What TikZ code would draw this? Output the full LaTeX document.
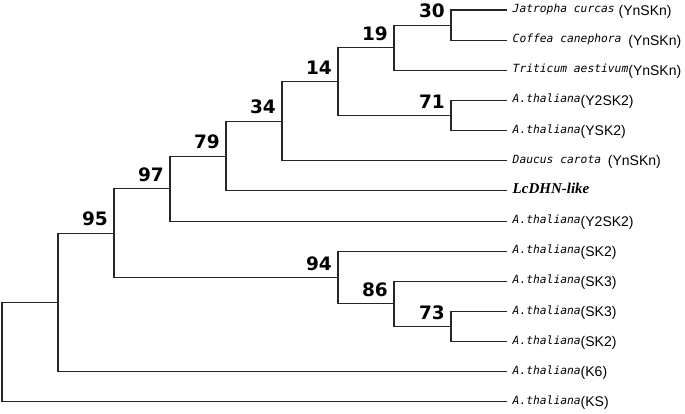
\documentclass[tikz,border=0pt]{standalone}
\usepackage{fontspec}
\newfontfamily\bsfont{DejaVu Sans}
\newfontfamily\tagfont{Liberation Sans}
\newfontfamily\lcfont{Liberation Serif}
\newfontfamily\monofont{DejaVu Sans Mono}
\newcommand{\spec}[1]{\raisebox{2.5pt}{\monofont\itshape\fontsize{11.3}{13}\selectfont #1}}
\newcommand{\gtag}[1]{{\tagfont\fontsize{14}{16}\selectfont #1}}
\tikzset{
  br/.style={draw=black!85, line width=1.05pt},
  bs/.style={font=\bsfont\bfseries\fontsize{18.5}{20}\selectfont, inner sep=0pt, anchor=south east, xshift=-6pt, yshift=7pt},
  leaflab/.style={font=\tagfont\fontsize{14}{16}\selectfont, inner sep=0pt, anchor=base west, xshift=5.5pt, yshift=-5pt}
}
\begin{document}
\begin{tikzpicture}[x=1pt,y=-1pt]
\useasboundingbox (0,0) rectangle (685,413);
% leaves
\coordinate (L1) at (507,10);
\coordinate (L2) at (507,40.15);
\coordinate (L3) at (507,70.3);
\coordinate (L4) at (507,100.45);
\coordinate (L5) at (507,130.6);
\coordinate (L6) at (507,160.75);
\coordinate (L7) at (507,190.9);
\coordinate (L8) at (507,221.05);
\coordinate (L9) at (507,251.2);
\coordinate (L10) at (507,281.35);
\coordinate (L11) at (507,311.5);
\coordinate (L12) at (507,341.65);
\coordinate (L13) at (507,371.8);
\coordinate (L14) at (507,401.95);
% internal nodes
\coordinate (n30) at (451,25.08);
\coordinate (n19) at (394,47.69);
\coordinate (n71) at (451,115.53);
\coordinate (n14) at (338,81.61);
\coordinate (n34) at (282,121.18);
\coordinate (n79) at (226,156.04);
\coordinate (n97) at (170,188.54);
\coordinate (n73) at (451,326.58);
\coordinate (n86) at (394,303.96);
\coordinate (n94) at (338,277.58);
\coordinate (n95) at (114,233.06);
\coordinate (nK) at (58,302.43);
\coordinate (root) at (2,352.19);
% branches
\draw[br] (n30) |- (L1);
\draw[br] (n30) |- (L2);
\draw[br] (n19) |- (n30);
\draw[br] (n19) |- (L3);
\draw[br] (n71) |- (L4);
\draw[br] (n71) |- (L5);
\draw[br] (n14) |- (n19);
\draw[br] (n14) |- (n71);
\draw[br] (n34) |- (n14);
\draw[br] (n34) |- (L6);
\draw[br] (n79) |- (n34);
\draw[br] (n79) |- (L7);
\draw[br] (n97) |- (n79);
\draw[br] (n97) |- (L8);
\draw[br] (n73) |- (L11);
\draw[br] (n73) |- (L12);
\draw[br] (n86) |- (L10);
\draw[br] (n86) |- (n73);
\draw[br] (n94) |- (L9);
\draw[br] (n94) |- (n86);
\draw[br] (n95) |- (n97);
\draw[br] (n95) |- (n94);
\draw[br] (nK) |- (n95);
\draw[br] (nK) |- (L13);
\draw[br] (root) |- (nK);
\draw[br] (root) |- (L14);
% bootstrap values
\node[bs] (b30) at (n30) {30};
\node[bs] (b19) at (n19) {19};
\node[bs] (b71) at (n71) {71};
\node[bs] (b14) at (n14) {14};
\node[bs] (b34) at (n34) {34};
\node[bs] (b79) at (n79) {79};
\node[bs] (b97) at (n97) {97};
\node[bs] (b73) at (n73) {73};
\node[bs] (b86) at (n86) {86};
\node[bs] (b94) at (n94) {94};
\node[bs] (b95) at (n95) {95};
% leaf labels
\node[leaflab] (t1) at (L1) {\spec{Jatropha curcas} \gtag{(YnSKn)}};
\node[leaflab] (t2) at (L2) {\spec{Coffea canephora\ }\gtag{(YnSKn)}};
\node[leaflab] (t3) at (L3) {\spec{Triticum aestivum}\gtag{(YnSKn)}};
\node[leaflab] (t4) at (L4) {\spec{A.thaliana}\gtag{(Y2SK2)}};
\node[leaflab] (t5) at (L5) {\spec{A.thaliana}\gtag{(YSK2)}};
\node[leaflab] (t6) at (L6) {\spec{Daucus carota\ }\gtag{(YnSKn)}};
\node[leaflab] (t7) at (L7) {\raisebox{2pt}{\lcfont\bfseries\itshape\fontsize{15}{17}\selectfont LcDHN-like}};
\node[leaflab] (t8) at (L8) {\spec{A.thaliana}\gtag{(Y2SK2)}};
\node[leaflab] (t9) at (L9) {\spec{A.thaliana}\gtag{(SK2)}};
\node[leaflab] (t10) at (L10) {\spec{A.thaliana}\gtag{(SK3)}};
\node[leaflab] (t11) at (L11) {\spec{A.thaliana}\gtag{(SK3)}};
\node[leaflab] (t12) at (L12) {\spec{A.thaliana}\gtag{(SK2)}};
\node[leaflab] (t13) at (L13) {\spec{A.thaliana}\gtag{(K6)}};
\node[leaflab] (t14) at (L14) {\spec{A.thaliana}\gtag{(KS)}};
\end{tikzpicture}
\end{document}
